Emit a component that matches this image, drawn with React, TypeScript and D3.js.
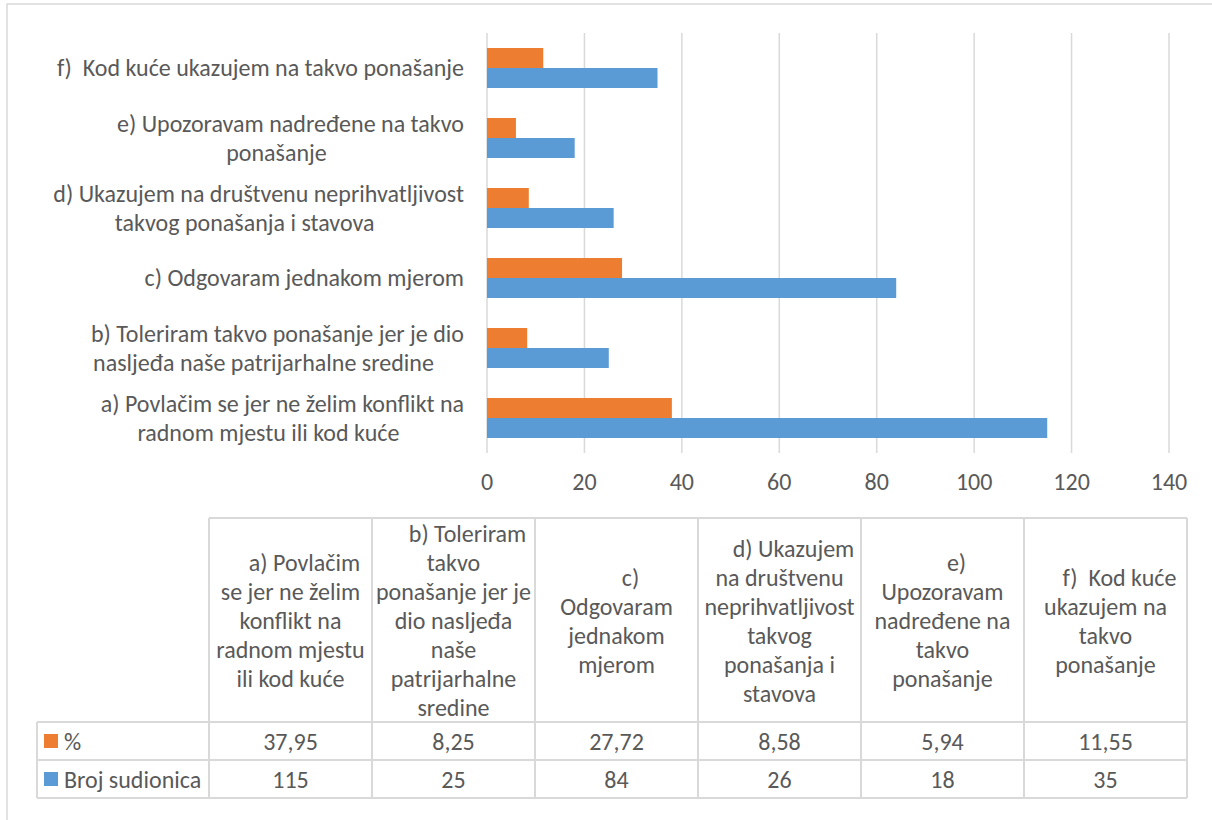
import React, { useEffect, useRef } from "react";
import * as d3 from "d3";

// ---------- data ----------
const categoryKeys = ["a", "b", "c", "d", "e", "f"];
const axisLabelLines: string[][] = [
  ["a) Povlačim se jer ne želim konflikt na", "radnom mjestu ili kod kuće"],
  ["b) Toleriram takvo ponašanje jer je dio", "nasljeđa naše patrijarhalne sredine"],
  ["c) Odgovaram jednakom mjerom"],
  ["d) Ukazujem na društvenu neprihvatljivost", "takvog ponašanja i stavova"],
  ["e) Upozoravam nadređene na takvo", "ponašanje"],
  ["f)  Kod kuće ukazujem na takvo ponašanje"],
];
const tableHeaderLines: string[][] = [
  ["a) Povlačim", "se jer ne želim", "konflikt na", "radnom mjestu", "ili kod kuće"],
  ["b) Toleriram", "takvo", "ponašanje jer je", "dio nasljeđa", "naše", "patrijarhalne", "sredine"],
  ["c)", "Odgovaram", "jednakom", "mjerom"],
  ["d) Ukazujem", "na društvenu", "neprihvatljivost", "takvog", "ponašanja i", "stavova"],
  ["e)", "Upozoravam", "nadređene na", "takvo", "ponašanje"],
  ["f)  Kod kuće", "ukazujem na", "takvo", "ponašanje"],
];
const seriesNames = ["%", "Broj sudionica"];
const seriesColors = ["#ED7D31", "#5B9BD5"];
const percentValues = [37.95, 8.25, 27.72, 8.58, 5.94, 11.55];
const countValues = [115, 25, 84, 26, 18, 35];
const xTicks = [0, 20, 40, 60, 80, 100, 120, 140];

// ---------- layout ----------
const W = 1212;
const H = 820;
const FONT = "Carlito, Calibri, Lato, sans-serif";
const FS = 24;
const TEXT = "#595959";
const GRID = "#d9d9d9";
const INDENT = 28; // leading indent of first label line (list-style)

const locale = d3.formatLocale({ decimal: ",", thousands: ".", grouping: [3], currency: ["", ""] });
const fmt2 = locale.format(".2f");
const fmt0 = locale.format("d");

export default function App() {
  const ref = useRef<SVGSVGElement | null>(null);

  useEffect(() => {
    const svg = d3.select(ref.current);
    svg.selectAll("*").remove();

    const x = d3.scaleLinear().domain([0, 140]).range([487, 1169]);
    const y = d3
      .scaleBand<string>()
      .domain(categoryKeys.slice().reverse())
      .range([33, 453])
      .paddingInner(3 / 7)
      .paddingOuter(3 / 14);
    const ys = d3.scaleBand<string>().domain(seriesNames).range([0, y.bandwidth()]);

    // outer frame
    svg
      .append("path")
      .attr("d", `M7,${H} V4 H${W}`)
      .attr("fill", "none")
      .attr("stroke", GRID)
      .attr("stroke-width", 1.5);

    // gridlines
    svg
      .append("g")
      .selectAll("line")
      .data(xTicks)
      .join("line")
      .attr("x1", (d) => x(d))
      .attr("x2", (d) => x(d))
      .attr("y1", 33)
      .attr("y2", 453)
      .attr("stroke", GRID)
      .attr("stroke-width", 1.5);

    // bars
    const seriesData = [percentValues, countValues];
    seriesData.forEach((vals, si) => {
      svg
        .append("g")
        .selectAll("rect")
        .data(vals)
        .join("rect")
        .attr("x", x(0))
        .attr("y", (_, i) => (y(categoryKeys[i]) as number) + (ys(seriesNames[si]) as number))
        .attr("width", (d) => x(d) - x(0))
        .attr("height", ys.bandwidth())
        .attr("fill", seriesColors[si]);
    });

    // tick labels
    svg
      .append("g")
      .selectAll("text")
      .data(xTicks)
      .join("text")
      .attr("x", (d) => x(d))
      .attr("y", 490)
      .attr("text-anchor", "middle")
      .attr("font-family", FONT)
      .attr("font-size", FS)
      .attr("fill", TEXT)
      .text((d) => d);

    // category labels
    const LH = 29;
    axisLabelLines.forEach((lines, i) => {
      const cy = (y(categoryKeys[i]) as number) + y.bandwidth() / 2;
      const g = svg.append("g");
      const texts = lines.map((ln, j) =>
        g
          .append("text")
          .attr("y", cy + (j - (lines.length - 1) / 2) * LH + 8)
          .attr("font-family", FONT)
          .attr("font-size", FS)
          .attr("fill", TEXT)
          .attr("xml:space", "preserve")
          .style("white-space", "pre")
          .text(ln)
      );
      if (lines.length === 1) {
        texts[0].attr("x", 464).attr("text-anchor", "end");
      } else {
        const widths = texts.map(
          (t, j) => (t.node() as SVGTextElement).getComputedTextLength() + (j === 0 ? INDENT : 0)
        );
        const bw = Math.max(...widths);
        const cx = 464 - bw / 2;
        texts.forEach((t, j) =>
          t.attr("x", cx + (j === 0 ? INDENT / 2 : 0)).attr("text-anchor", "middle")
        );
      }
    });

    // ---------- data table ----------
    const col = d3.scaleBand<string>().domain(categoryKeys).range([209, 1187]);
    const headerTop = 518;
    const headerBottom = 722;
    const rowH = 38;
    const rowTops = [headerBottom, headerBottom + rowH];
    const tableBottom = headerBottom + 2 * rowH;
    const left = 37;
    const right = 1187;
    const tg = svg.append("g");
    const line = (x1: number, y1: number, x2: number, y2: number) =>
      tg
        .append("line")
        .attr("x1", x1)
        .attr("y1", y1)
        .attr("x2", x2)
        .attr("y2", y2)
        .attr("stroke", GRID)
        .attr("stroke-width", 2);
    line(col("a") as number, headerTop, right, headerTop);
    [headerBottom, headerBottom + rowH, tableBottom].forEach((yy) => line(left, yy, right, yy));
    line(left, headerBottom, left, tableBottom);
    categoryKeys.forEach((k) => line(col(k) as number, headerTop, col(k) as number, tableBottom));
    line(right, headerTop, right, tableBottom);

    const headerMid = (headerTop + headerBottom) / 2;
    tableHeaderLines.forEach((lines, i) => {
      const cx = (col(categoryKeys[i]) as number) + col.bandwidth() / 2;
      lines.forEach((ln, j) => {
        tg.append("text")
          .attr("x", cx + (j === 0 ? INDENT / 2 : 0))
          .attr("y", headerMid + (j - (lines.length - 1) / 2) * LH + 9)
          .attr("text-anchor", "middle")
          .attr("font-family", FONT)
          .attr("font-size", FS)
          .attr("fill", TEXT)
          .attr("xml:space", "preserve")
          .style("white-space", "pre")
          .text(ln);
      });
    });

    const rowValues = [percentValues.map((v) => fmt2(v)), countValues.map((v) => fmt0(v))];
    seriesNames.forEach((name, si) => {
      const cy = rowTops[si] + rowH / 2;
      tg.append("rect")
        .attr("x", 44)
        .attr("y", cy - 7)
        .attr("width", 14)
        .attr("height", 14)
        .attr("fill", seriesColors[si]);
      tg.append("text")
        .attr("x", 64)
        .attr("y", cy + 9)
        .attr("font-family", FONT)
        .attr("font-size", FS)
        .attr("fill", TEXT)
        .text(name);
      rowValues[si].forEach((v, i) => {
        tg.append("text")
          .attr("x", (col(categoryKeys[i]) as number) + col.bandwidth() / 2)
          .attr("y", cy + 9)
          .attr("text-anchor", "middle")
          .attr("font-family", FONT)
          .attr("font-size", FS)
          .attr("fill", TEXT)
          .text(v);
      });
    });
  }, []);

  return (
    <svg
      ref={ref}
      width={W}
      height={H}
      style={{ position: "absolute", left: 0, top: 0, background: "#fff" }}
    />
  );
}
